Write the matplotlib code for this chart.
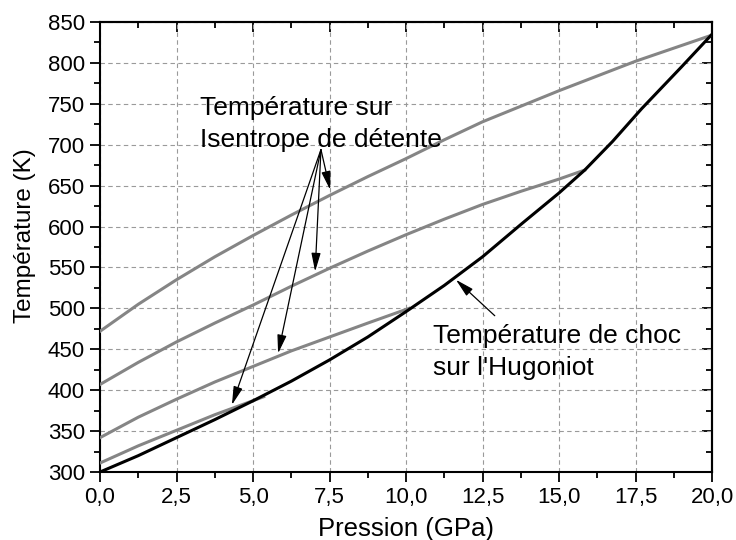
import matplotlib
matplotlib.use('Agg')
import matplotlib.pyplot as plt
from matplotlib.ticker import MultipleLocator, FuncFormatter

plt.rcParams['font.family'] = ['Liberation Sans', 'DejaVu Sans']

# Hugoniot (temperature de choc)
p_hug = [0, 1.25, 2.5, 3.75, 5, 6.25, 7.5, 8.75, 10, 11.25, 12.5, 13.8, 15, 15.84, 16.75, 17.7, 19, 20]
t_hug = [300, 320, 342, 364, 387, 411, 437, 465, 496, 528, 563, 604, 641, 669, 704, 744, 795, 835]

# isentropes de detente
p_is1 = [0, 1.25, 2.5, 3.75, 5, 6.25, 7.5, 8.75, 10, 11.25, 12.5, 13.75, 15, 16.25, 17.5, 18.75, 20]
t_is1 = [472, 505, 535, 563, 589, 614, 638, 661, 683, 706, 728, 747, 766, 784, 802, 818, 834]
p_is2 = [0, 1.25, 2.5, 3.75, 5, 6.25, 7.5, 8.75, 10, 11.25, 12.5, 13.75, 15, 15.84]
t_is2 = [407, 434, 459, 482, 504, 527, 549, 570, 590, 609, 627, 643, 658, 669]
p_is3 = [0, 1.25, 2.5, 3.75, 5, 6.25, 7.5, 8.75, 10.1]
t_is3 = [342, 367, 389, 410, 429, 448, 465, 482, 500]
p_is4 = [0, 1.25, 2.5, 3.75, 5.35]
t_is4 = [311, 332, 351, 370, 392]

fig = plt.figure(figsize=(7.36, 5.4), dpi=100)
ax = fig.add_axes([0.1359, 0.1259, 0.8315, 0.8334])

grey = '#858585'
for p, t in [(p_is1, t_is1), (p_is2, t_is2), (p_is3, t_is3), (p_is4, t_is4)]:
    ax.plot(p, t, color=grey, lw=2.2, zorder=3)
ax.plot(p_hug, t_hug, color='black', lw=2.2, zorder=4)

ax.set_xlim(0, 20)
ax.set_ylim(300, 850)
ax.xaxis.set_major_locator(MultipleLocator(2.5))
ax.xaxis.set_minor_locator(MultipleLocator(1.25))
ax.yaxis.set_major_locator(MultipleLocator(50))
ax.yaxis.set_minor_locator(MultipleLocator(25))
ax.xaxis.set_major_formatter(FuncFormatter(lambda v, pos: ('%.1f' % v).replace('.', ',')))

ax.grid(True, which='major', color='#9a9a9a', ls=(0, (4, 3)), lw=0.8)
ax.set_axisbelow(True)
for s in ax.spines.values():
    s.set_linewidth(1.5)

ax.tick_params(which='both', width=1.3, labelsize=16)
ax.tick_params(which='major', length=7, pad=4)
ax.tick_params(which='minor', length=4)
ax.tick_params(axis='both', which='both', direction='out', top=False, right=False)
# inward ticks on top and right like the original software
sec_x = ax.secondary_xaxis('top')
sec_x.xaxis.set_major_locator(MultipleLocator(2.5))
sec_x.xaxis.set_minor_locator(MultipleLocator(1.25))
sec_x.tick_params(which='both', direction='in', width=1.3, labeltop=False)
sec_x.tick_params(which='major', length=7)
sec_x.tick_params(which='minor', length=4)
sec_x.spines['top'].set_linewidth(1.5)
sec_y = ax.secondary_yaxis('right')
sec_y.yaxis.set_major_locator(MultipleLocator(50))
sec_y.yaxis.set_minor_locator(MultipleLocator(25))
sec_y.tick_params(which='both', direction='in', width=1.3, labelright=False)
sec_y.tick_params(which='major', length=7)
sec_y.tick_params(which='minor', length=4)
sec_y.spines['right'].set_linewidth(1.5)

ax.set_xlabel('Pression (GPa)', fontsize=18.5, labelpad=6)
ax.set_ylabel('Température (K)', fontsize=17.5)
ax.yaxis.set_label_coords(-0.104, 0.525)

arrow = dict(arrowstyle='-|>,head_length=0.8,head_width=0.2', color='black', lw=0.9,
             shrinkA=0, shrinkB=0, mutation_scale=14)
ax.text(3.27, 697, 'Température sur\nIsentrope de détente', fontsize=19,
        ha='left', va='baseline', linespacing=1.42, zorder=5)
for tip in [(7.52, 645), (7.03, 545), (5.82, 445), (4.31, 382)]:
    ax.annotate('', xy=tip, xytext=(7.22, 694), arrowprops=arrow, zorder=5)

ax.text(10.88, 418, "Température de choc\nsur l'Hugoniot", fontsize=19,
        ha='left', va='baseline', linespacing=1.42, zorder=5)
ax.annotate('', xy=(11.63, 535), xytext=(12.9, 491), arrowprops=arrow, zorder=5)

fig.savefig('out.png', dpi=100)
